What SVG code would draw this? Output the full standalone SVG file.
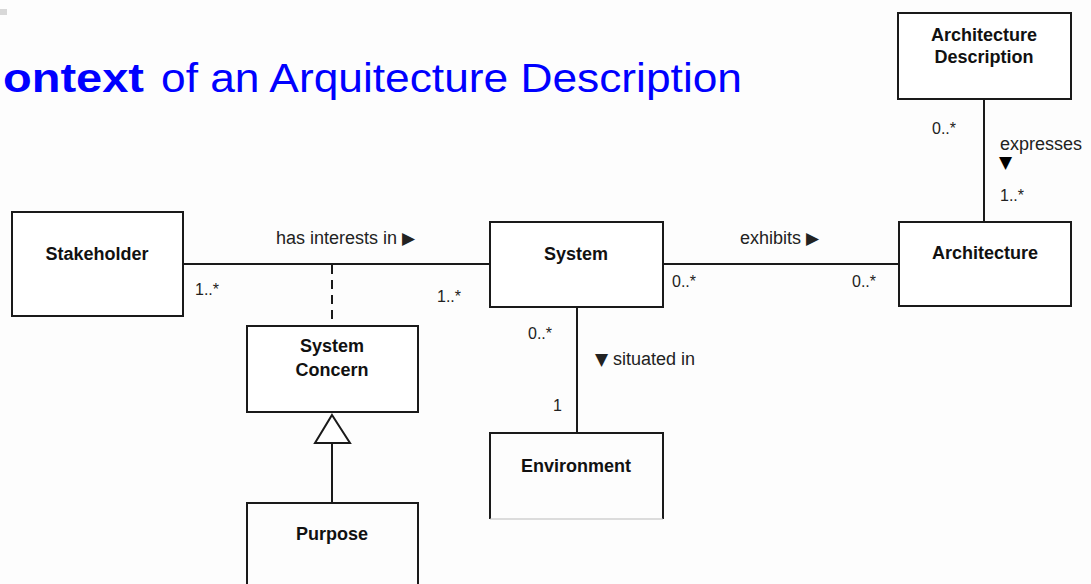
<svg xmlns="http://www.w3.org/2000/svg" width="1091" height="584" viewBox="0 0 1091 584">
<style>
.box{fill:#fff;stroke:#1a1a1a;stroke-width:2}
.ln{fill:none;stroke:#1a1a1a;stroke-width:2}
.nl{font-family:"Liberation Sans",Arial,sans-serif;font-weight:bold;font-size:18px;fill:#111;text-anchor:middle}
.lb{font-family:"Liberation Sans",Arial,sans-serif;font-size:18px;fill:#222}
.m{font-family:"Liberation Sans",Arial,sans-serif;font-size:16px;fill:#222}
.sym{font-family:"DejaVu Sans",sans-serif;font-size:17px}
.title{font-family:"Liberation Sans",Arial,sans-serif;font-size:40px;fill:#0000ff}
</style>
<rect x="0" y="0" width="1091" height="584" fill="#fdfdfd"/>
<rect x="0" y="9" width="7" height="6" fill="#d8d8d8"/>
<text class="title" x="3" y="92"><tspan font-weight="bold" textLength="141" lengthAdjust="spacingAndGlyphs">ontext</tspan></text>
<text class="title" x="161" y="92" textLength="581" lengthAdjust="spacingAndGlyphs">of an Arquitecture Description</text>

<g id="connectors">
<line class="ln" x1="984" y1="99" x2="984" y2="222"/>
<line class="ln" x1="183" y1="264" x2="490" y2="264"/>
<line class="ln" x1="332" y1="265" x2="332" y2="326" stroke-dasharray="9,6"/>
<line class="ln" x1="663" y1="264" x2="899" y2="264"/>
<line class="ln" x1="577" y1="307" x2="577" y2="433"/>
<line class="ln" x1="332" y1="443" x2="332" y2="503"/>
<polygon class="box" points="332,415 350,443 315,443"/>
<text class="lb" x="276" y="244">has interests in <tspan class="sym">▶</tspan></text>
<text class="m" x="195" y="295">1..*</text>
<text class="m" x="437" y="302">1..*</text>
<text class="lb" x="740" y="244">exhibits <tspan class="sym">▶</tspan></text>
<text class="m" x="672" y="287">0..*</text>
<text class="m" x="852" y="287">0..*</text>
<text class="m" x="528" y="339">0..*</text>
<text class="lb" x="595" y="365"><tspan class="sym">▼</tspan> situated in</text>
<text class="m" x="553" y="411">1</text>
<text class="m" x="932" y="134">0..*</text>
<text class="lb" x="1000" y="150">expresses</text>
<text class="sym" x="999" y="168">▼</text>
<text class="m" x="1000" y="201">1..*</text>
</g>

<g id="architecture-description">
<rect class="box" x="898" y="13" width="173" height="86"/>
<text class="nl" x="984" y="41">Architecture</text>
<text class="nl" x="984" y="63">Description</text>
</g>
<g id="architecture">
<rect class="box" x="899" y="222" width="172" height="84"/>
<text class="nl" x="985" y="259">Architecture</text>
</g>
<g id="stakeholder">
<rect class="box" x="12" y="212" width="171" height="104"/>
<text class="nl" x="97" y="260">Stakeholder</text>
</g>
<g id="system">
<rect class="box" x="490" y="222" width="173" height="85"/>
<text class="nl" x="576" y="260">System</text>
</g>
<g id="system-concern">
<rect class="box" x="247" y="326" width="171" height="86"/>
<text class="nl" x="332" y="352">System</text>
<text class="nl" x="332" y="376">Concern</text>
</g>
<g id="environment">
<path class="ln" d="M490,519 V433 H663 V519"/>
<line x1="490" y1="519" x2="663" y2="519" stroke="#bbb" stroke-width="1"/>
<text class="nl" x="576" y="472">Environment</text>
</g>
<g id="purpose">
<path class="ln" d="M247,584 V503 H418 V584"/>
<text class="nl" x="332" y="540">Purpose</text>
</g>
</svg>
